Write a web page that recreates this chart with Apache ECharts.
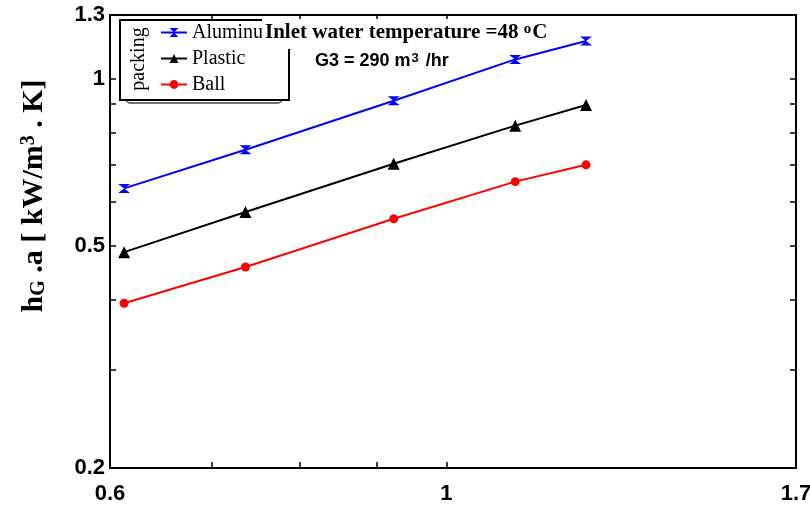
<!DOCTYPE html>
<html>
<head>
<meta charset="utf-8">
<script src="https://cdn.jsdelivr.net/npm/echarts@6/dist/echarts.min.js"></script>
<style>
  html, body { margin: 0; padding: 0; background: #fff; }
  #main { width: 810px; height: 508px; }
</style>
</head>
<body>
<div id="main"></div>
<script>
// data (log-log plot)
var xValues = [0.613, 0.737, 0.923, 1.11, 1.236];
var aluminum = [0.635, 0.745, 0.912, 1.082, 1.168];
var plastic = [0.488, 0.576, 0.703, 0.823, 0.896];
var ball = [0.395, 0.459, 0.560, 0.653, 0.700];

var xLabels = [0.6, 1, 1.7];
var xTicks = [0.7, 0.8, 0.9, 1];
var yLabels = [0.2, 0.5, 1, 1.3];
var yTicks = [0.3, 0.4, 0.5, 0.6, 0.7, 0.8, 0.9, 1];

function pairs(ys) {
    return xValues.map(function (x, i) { return [x, ys[i]]; });
}

var serif = '"Liberation Serif", "Times New Roman", serif';
var sans = '"Liberation Sans", Arial, sans-serif';

var myChart = echarts.init(document.getElementById('main'));

var lineAxis = { show: true, lineStyle: { color: '#000', width: 2 } };
var labelStyle = { fontFamily: sans, fontWeight: 'bold', fontSize: 22, color: '#000' };
var tickStyle = { color: '#000', width: 1.5 };

var option = {
    animation: false,
    grid: { left: 110, right: 14, top: 15, bottom: 40, outerBoundsMode: 'none', containLabel: false },
    title: [
        {
            text: 'Inlet water temperature =48 {sup|o}C',
            left: 262,
            top: 19,
            padding: [3, 3, 6, 3],
            backgroundColor: '#fff',
            textStyle: {
                fontFamily: serif, fontWeight: 'bold', fontSize: 21, color: '#000',
                rich: {
                    sup: { fontFamily: serif, fontWeight: 'bold', fontSize: 15, color: '#000', verticalAlign: 'top', padding: [0, 1, 0, 0] }
                }
            }
        },
        {
            text: 'G3 = 290 m{sup|3} /hr',
            left: 315,
            top: 52,
            padding: 0,
            textStyle: {
                fontFamily: sans, fontWeight: 'bold', fontSize: 18, color: '#000',
                rich: {
                    sup: { fontFamily: sans, fontWeight: 'bold', fontSize: 13, color: '#000', verticalAlign: 'top', padding: [0, 2, 0, 1] }
                }
            }
        }
    ],
    legend: {
        orient: 'vertical',
        left: 160,
        top: 22,
        padding: 0,
        itemWidth: 26,
        itemHeight: 11,
        itemGap: 5,
        textStyle: { fontFamily: serif, fontSize: 20, color: '#000', lineHeight: 21 },
        data: ['Aluminum', 'Plastic', 'Ball']
    },
    graphic: [
        {
            type: 'rect', z: 3,
            shape: { x: 126, y: 22, width: 156, height: 81, r: 4 },
            style: { fill: '#fff', stroke: '#444', lineWidth: 1.5 }
        },
        {
            type: 'rect', z: 3,
            shape: { x: 120, y: 20, width: 169, height: 80 },
            style: { fill: '#fff', stroke: '#000', lineWidth: 2 }
        },
        {
            type: 'text', z: 5,
            x: 139, y: 59, rotation: Math.PI / 2,
            style: {
                text: 'packing', fontFamily: serif, fontSize: 20, fill: '#000',
                align: 'center', verticalAlign: 'middle'
            }
        },
        {
            type: 'text', z: 5,
            x: 34, y: 196, rotation: Math.PI / 2,
            style: {
                text: 'h{sub|G} .a [ kW/m{sup|3} . K]',
                fontFamily: serif, fontWeight: 'bold', fontSize: 30, fill: '#000',
                align: 'center', verticalAlign: 'middle',
                rich: {
                    sub: { fontFamily: serif, fontWeight: 'bold', fontSize: 20, fill: '#000', verticalAlign: 'bottom', lineHeight: 30 },
                    sup: { fontFamily: serif, fontWeight: 'bold', fontSize: 20, fill: '#000', verticalAlign: 'top', lineHeight: 30 }
                }
            }
        }
    ],
    xAxis: [
        {
            type: 'log', logBase: 10, min: 0.6, max: 1.7, position: 'bottom',
            axisLine: lineAxis,
            splitLine: { show: false },
            axisTick: { show: true, inside: true, length: 6, customValues: xTicks, lineStyle: tickStyle },
            axisLabel: Object.assign({ margin: 15, customValues: xLabels, formatter: function (v) { return String(v); } }, labelStyle)
        },
        {
            type: 'log', logBase: 10, min: 0.6, max: 1.7, position: 'top',
            axisLine: lineAxis,
            splitLine: { show: false },
            axisTick: { show: true, inside: true, length: 6, customValues: xTicks, lineStyle: tickStyle },
            axisLabel: { show: false }
        }
    ],
    yAxis: [
        {
            type: 'log', logBase: 10, min: 0.2, max: 1.3, position: 'left',
            axisLine: lineAxis,
            splitLine: { show: false },
            axisTick: { show: true, inside: true, length: 6, customValues: yTicks, lineStyle: tickStyle },
            axisLabel: Object.assign({ margin: 5, customValues: yLabels, formatter: function (v) { return String(v); } }, labelStyle)
        },
        {
            type: 'log', logBase: 10, min: 0.2, max: 1.3, position: 'right',
            axisLine: lineAxis,
            splitLine: { show: false },
            axisTick: { show: true, inside: true, length: 6, customValues: yTicks, lineStyle: tickStyle },
            axisLabel: { show: false }
        }
    ],
    series: [
        {
            name: 'Aluminum', type: 'line', data: pairs(aluminum),
            symbol: 'path://M0,0 L10,0 L5,5 L10,10 L0,10 L5,5 Z', symbolSize: [12, 9],
            lineStyle: { color: '#0000ff', width: 2 },
            itemStyle: { color: '#0000ff' }
        },
        {
            name: 'Plastic', type: 'line', data: pairs(plastic),
            symbol: 'triangle', symbolSize: 12,
            lineStyle: { color: '#000', width: 2 },
            itemStyle: { color: '#000' }
        },
        {
            name: 'Ball', type: 'line', data: pairs(ball),
            symbol: 'circle', symbolSize: 9,
            lineStyle: { color: '#ff0000', width: 2 },
            itemStyle: { color: '#ff0000' }
        }
    ]
};

myChart.setOption(option);
</script>
</body>
</html>
